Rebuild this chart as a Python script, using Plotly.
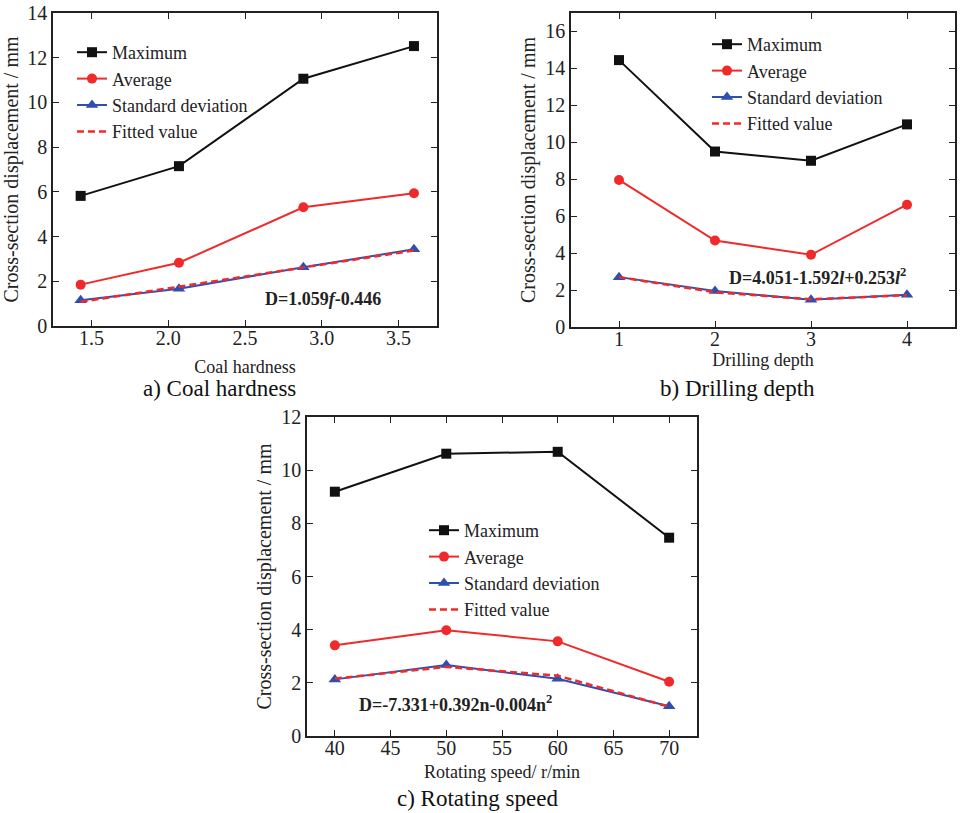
import plotly.graph_objects as go

W, H = 961, 813
FONT = "Liberation Serif, Times New Roman, serif"

# ---------------- data ----------------
hardness = [1.43, 2.07, 2.88, 3.60]
a_max = [5.82, 7.15, 11.06, 12.52]
a_avg = [1.85, 2.83, 5.31, 5.94]
a_std = [1.15, 1.67, 2.63, 3.43]
a_fit = [1.08, 1.75, 2.62, 3.38]

depth = [1, 2, 3, 4]
b_max = [14.45, 9.50, 9.00, 10.97]
b_avg = [7.96, 4.68, 3.91, 6.62]
b_std = [2.70, 1.95, 1.48, 1.74]
b_fit = [2.70, 1.88, 1.50, 1.72]

speed = [40, 50, 60, 70]
c_max = [9.19, 10.62, 10.69, 7.46]
c_avg = [3.41, 3.98, 3.56, 2.04]
c_std = [2.13, 2.67, 2.15, 1.12]
c_fit = [2.16, 2.60, 2.27, 1.10]

series_names = ["Maximum", "Average", "Standard deviation", "Fitted value"]

BLACK = "#111111"
RED = "#f02a2a"
BLUE = "#2f4fb0"


def px(x):
    return x / W


def py(y):
    return 1 - y / H


fig = go.Figure()

panels = [
    dict(x=hardness, ys=[a_max, a_avg, a_std, a_fit], xa="x", ya="y", leg="legend"),
    dict(x=depth, ys=[b_max, b_avg, b_std, b_fit], xa="x2", ya="y2", leg="legend2"),
    dict(x=speed, ys=[c_max, c_avg, c_std, c_fit], xa="x3", ya="y3", leg="legend3"),
]

for p in panels:
    mx, av, sd, ft = p["ys"]
    common = dict(x=p["x"], xaxis=p["xa"], yaxis=p["ya"], legend=p["leg"])
    fig.add_trace(go.Scatter(y=mx, name=series_names[0], mode="lines+markers",
                             line=dict(color=BLACK, width=2),
                             marker=dict(symbol="square", size=10, color=BLACK), **common))
    fig.add_trace(go.Scatter(y=av, name=series_names[1], mode="lines+markers",
                             line=dict(color=RED, width=2),
                             marker=dict(symbol="circle", size=10, color=RED), **common))
    fig.add_trace(go.Scatter(y=sd, name=series_names[2], mode="lines+markers",
                             line=dict(color=BLUE, width=2),
                             marker=dict(symbol="triangle-up", size=11, color=BLUE), **common))
    fig.add_trace(go.Scatter(y=ft, name=series_names[3], mode="lines",
                             line=dict(color=RED, width=2.5, dash="7px,4px"), **common))

axis_common = dict(
    showline=True, linecolor="#222", linewidth=1.5, mirror="allticks",
    ticks="inside", ticklen=6, tickwidth=1.2, tickcolor="#222",
    showgrid=False, zeroline=False, automargin=False,
    tickfont=dict(family=FONT, size=20, color="#222"),
    title_font=dict(family=FONT, size=18, color="#222"),
)
xaxis_common = dict(axis_common, ticklabelstandoff=-7)
yaxis_common = dict(axis_common)
yaxis_common["title_font"] = dict(family=FONT, size=20, color="#222")

fig.update_layout(
    width=W, height=H,
    margin=dict(l=0, r=0, t=0, b=0, autoexpand=False),
    paper_bgcolor="white", plot_bgcolor="white",
    font=dict(family=FONT, color="#222"),
    xaxis=dict(domain=[px(53), px(437)], anchor="y", range=[1.25, 3.75], dtick=0.5,
               tickformat=".1f", title=dict(text="Coal hardness", standoff=13), **xaxis_common),
    yaxis=dict(domain=[py(326), py(13)], anchor="x", range=[0, 14], dtick=2,
               title=dict(text="Cross-section displacement / mm", standoff=4), **yaxis_common),
    xaxis2=dict(domain=[px(571), px(955)], anchor="y2", range=[0.5, 4.5], dtick=1,
                title=dict(text="Drilling depth", standoff=5), **xaxis_common),
    yaxis2=dict(domain=[py(327), py(13)], anchor="x2", range=[0, 17], dtick=2,
                title=dict(text="Cross-section displacement / mm", standoff=4), **yaxis_common),
    xaxis3=dict(domain=[px(307), px(697)], anchor="y3", range=[37.5, 72.5], dtick=5,
                title=dict(text="Rotating speed/ r/min", standoff=8), **xaxis_common),
    yaxis3=dict(domain=[py(736), py(417)], anchor="x3", range=[0, 12], dtick=2,
                title=dict(text="Cross-section displacement / mm", standoff=4), **yaxis_common),
)

leg_common = dict(font=dict(family=FONT, size=18, color="#222"), bgcolor="rgba(0,0,0,0)",
                  xanchor="left", yanchor="top", tracegroupgap=0, itemwidth=30)
fig.update_layout(
    legend=dict(x=px(72), y=py(34), **leg_common),
    legend2=dict(x=px(707), y=py(26), **leg_common),
    legend3=dict(x=px(424), y=py(512), **leg_common),
)

eq_font = dict(family=FONT, size=18, color="#222")
cap_font = dict(family=FONT, size=23, color="#111")
annotations = [
    dict(text="<b>D=1.059<i>f</i>-0.446</b>", x=px(323), y=py(299), font=eq_font),
    dict(text="<b>D=4.051-1.592<i>l</i>+0.253<i>l</i><sup>2</sup></b>", x=px(817), y=py(276), font=eq_font),
    dict(text="<b>D=-7.331+0.392n-0.004n<sup>2</sup></b>", x=px(455), y=py(703), font=eq_font),
    dict(text="a) Coal hardness", x=px(219), y=py(389), font=cap_font),
    dict(text="b) Drilling depth", x=px(737), y=py(389), font=cap_font),
    dict(text="c) Rotating speed", x=px(477), y=py(798), font=cap_font),
]
for a in annotations:
    a.update(xref="paper", yref="paper", showarrow=False, xanchor="center", yanchor="middle")
fig.update_layout(annotations=annotations)

fig.write_html("out.html")
